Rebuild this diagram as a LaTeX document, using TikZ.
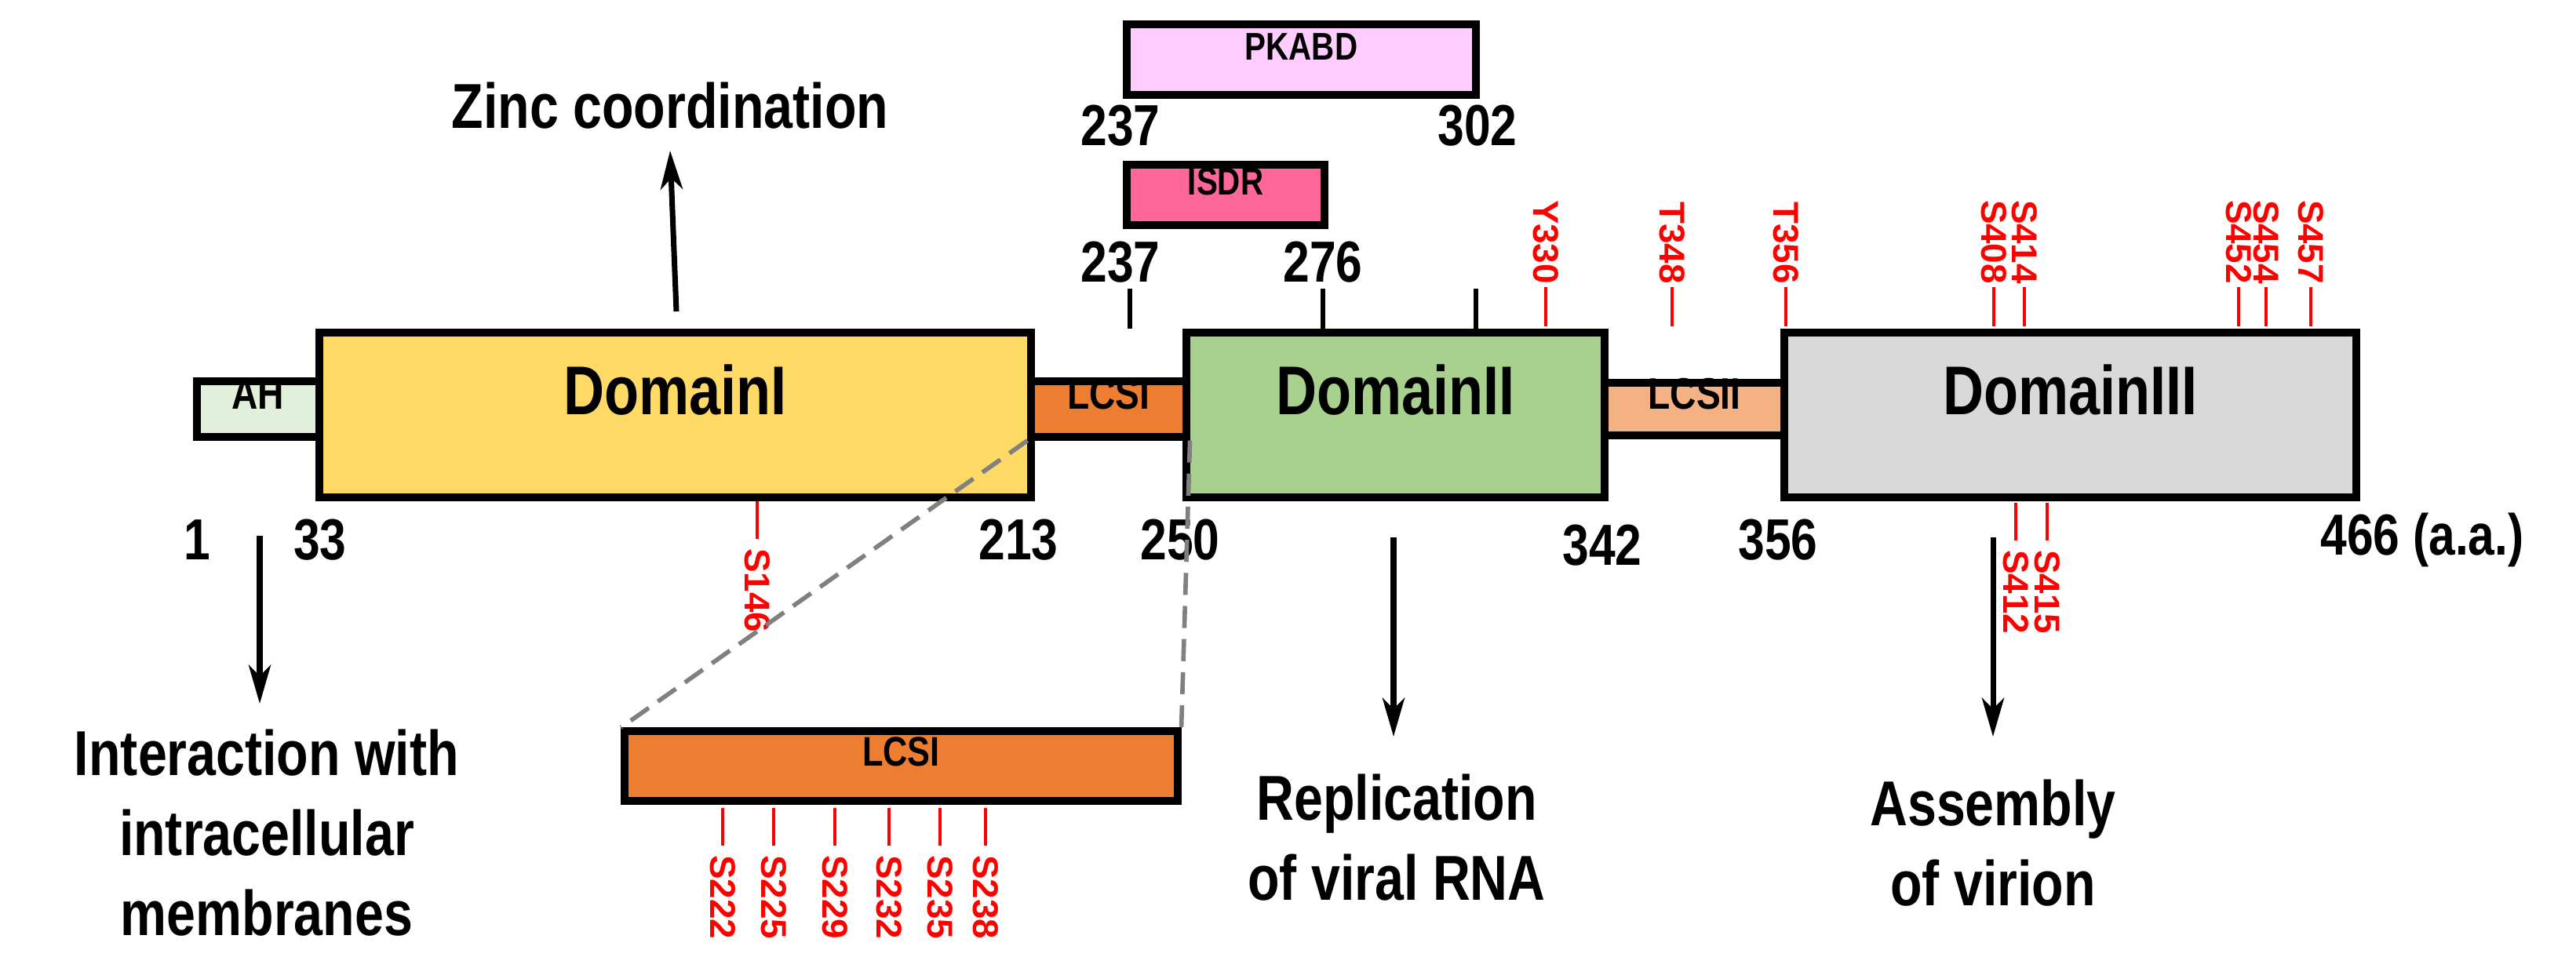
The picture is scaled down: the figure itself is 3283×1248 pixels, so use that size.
\documentclass[tikz,border=0pt]{standalone}
\usepackage{fontspec}
\setmainfont{Liberation Sans}[FakeStretch=0.82]
\newfontfamily\sitefont{Liberation Sans}
\usetikzlibrary{arrows.meta,fit}

\definecolor{ahGreen}{HTML}{E2EFDA}
\definecolor{domOne}{HTML}{FFD966}
\definecolor{lcsOrange}{HTML}{ED7D31}
\definecolor{domTwo}{HTML}{A9D18E}
\definecolor{lcsPeach}{HTML}{F4B183}
\definecolor{domThree}{HTML}{D9D9D9}
\definecolor{pkaPink}{HTML}{FFCCFF}
\definecolor{isdrPink}{HTML}{FF6699}

\tikzset{
  box/.style={draw=black, line width=2.6pt, inner sep=0pt, font=\bfseries},
  num/.style={font=\bfseries\fontsize{21}{24}\selectfont},
  func/.style={font=\bfseries\fontsize{23}{29}\selectfont, align=center},
  fnarrow/.style={line width=2pt, -{Stealth[length=14pt,width=8pt,inset=4pt]}},
  tick/.style={line width=1.5pt},
  site/.style={red, line width=1.3pt},
  sitelabel/.style={red, rotate=-90, inner sep=1pt, font=\sitefont\bfseries\fontsize{13}{13}\selectfont},
  zoomline/.style={gray, dashed, line width=1.6pt, dash pattern=on 8pt off 4pt}
}

\begin{document}
\begin{tikzpicture}[x=0.01cm, y=-0.01cm]

\newcommand{\siteUp}[3]{%x, top of tick, label
  \draw[site] (#1,#2) -- (#1,#2+50);
  \node[sitelabel, anchor=east] at (#1,#2) {#3};
}
\newcommand{\siteDown}[3]{%x, top of tick, label
  \draw[site] (#1,#2) -- (#1,#2+48);
  \node[sitelabel, anchor=west] at (#1,#2+56) {#3};
}

\useasboundingbox (0,0) rectangle (3283,1248);

% protein bar
\node[box, fill=ahGreen, fit={(251,486) (407,557)}, font=\bfseries\fontsize{16}{16}\selectfont] (ah) {AH};
\node[box, fill=lcsOrange, fit={(1314,486) (1512,557)}, font=\bfseries\fontsize{16}{16}\selectfont] (lcs1) {LCSI};
\node[box, fill=lcsPeach, fit={(2045,488) (2274,555)}, font=\bfseries\fontsize{16}{16}\selectfont] (lcs2) {LCSII};
\node[box, fill=domOne, fit={(407,424) (1314,634)}, font=\bfseries\fontsize{25}{25}\selectfont] (dom1) {DomainI};
\node[box, fill=domTwo, fit={(1512,424) (2045,634)}, font=\bfseries\fontsize{25}{25}\selectfont] (dom2) {DomainII};
\node[box, fill=domThree, fit={(2274,424) (3003,634)}, font=\bfseries\fontsize{25}{25}\selectfont] (dom3) {DomainIII};

% PKABD and ISDR
\node[box, fill=pkaPink, fit={(1436,31) (1881,121)}, font=\bfseries\fontsize{14}{14}\selectfont] (pkabd) {PKABD};
\node[num] (pkaL) at (1428,160) {237};
\node[num] (pkaR) at (1883,160) {302};
\node[box, fill=isdrPink, fit={(1436,210) (1688,287)}, font=\bfseries\fontsize{14}{14}\selectfont] (isdr) {ISDR};
\node[num] (isdrL) at (1428,334) {237};
\node[num] (isdrR) at (1686,334) {276};
\draw[tick] (1440,368) -- (1440,419);
\draw[tick] (1686,368) -- (1686,419);
\draw[tick] (1881,368) -- (1881,419);

% residue numbers
\node[num] (n1) at (251,688) {1};
\node[num] (n33) at (408,688) {33};
\node[num] (n213) at (1298,688) {213};
\node[num] (n250) at (1504,688) {250};
\node[num] (n342) at (2042,695) {342};
\node[num] (n356) at (2266,688) {356};
\node[num] (n466) at (3087,688) {466 (a.a.)};

% phosphorylation sites
\siteUp{1970}{366}{Y330}
\siteUp{2131}{366}{T348}
\siteUp{2276}{366}{T356}
\siteUp{2541}{366}{S408}
\siteUp{2580}{366}{S414}
\siteUp{2853}{366}{S452}
\siteUp{2888}{366}{S454}
\siteUp{2945}{366}{S457}
\siteDown{965}{639}{S146}
\siteDown{2569}{641}{S412}
\siteDown{2609}{641}{S415}

% enlarged LCSI
\node[box, fill=lcsOrange, fit={(796,932) (1501,1021)}, font=\bfseries\fontsize{15}{15}\selectfont] (lcsBig) {LCSI};
\draw[zoomline] (lcs1.south west) -- (lcsBig.north west);
\draw[zoomline] (lcs1.south east) -- (lcsBig.north east);
\siteDown{921}{1030}{S222}
\siteDown{986}{1030}{S225}
\siteDown{1064}{1030}{S229}
\siteDown{1133}{1030}{S232}
\siteDown{1198}{1030}{S235}
\siteDown{1256}{1030}{S238}

% functions
\node[func] (zinc) at (854,135) {Zinc coordination};
\node[func] (membr) at (340,1062) {Interaction with\\intracellular\\membranes};
\node[func] (repl) at (1780,1068) {Replication\\of viral RNA};
\node[func] (asm) at (2540,1075) {Assembly\\of virion};
\coordinate (zincFrom) at (862,397);
\coordinate (membrFrom) at (331,683);
\coordinate (replFrom) at (1776,685);
\coordinate (asmFrom) at (2540,685);
\draw[fnarrow] (zincFrom) -- (zinc.south |- 0,192);
\draw[fnarrow] (membrFrom) -- (331,897);
\draw[fnarrow] (replFrom) -- (1776,939);
\draw[fnarrow] (asmFrom) -- (2540,939);

\end{tikzpicture}
\end{document}
